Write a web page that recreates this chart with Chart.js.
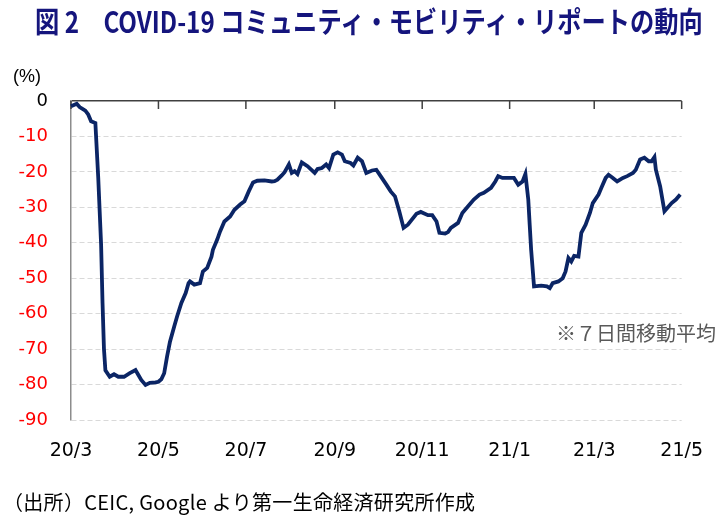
<!DOCTYPE html>
<html lang="ja">
<head>
<meta charset="utf-8">
<script src="https://cdn.jsdelivr.net/npm/chart.js@4"></script>
<style>
  html, body { margin: 0; padding: 0; background: #fff; }
  #wrap { position: relative; width: 723px; height: 516px; overflow: hidden; }
  #chart { position: absolute; left: 0; top: 0; }
  .txt { position: absolute; white-space: nowrap; font-family: "Noto Sans CJK JP", sans-serif; }
  #title { left: 35px; top: 5px; font-size: 29px; line-height: 31px; font-weight: 700; color: #15157d; transform-origin: left center; }
  #unit { left: 13px; top: 66px; font-size: 18px; line-height: 20px; font-family: "Liberation Sans Narrow", "Liberation Sans", sans-serif; color: #000; }
  #note { left: 556px; top: 320px; font-size: 20px; line-height: 26px; color: #595959; }
  #source { left: 3px; top: 489px; font-size: 20px; line-height: 26px; letter-spacing: 0.3px; color: #000; }
</style>
</head>
<body>
<div id="wrap">
  <canvas id="chart" width="723" height="516"></canvas>
  <div class="txt" id="title">図 2　COVID-19 コミュニティ・モビリティ・リポートの動向</div>
  <div class="txt" id="unit">(%)</div>
  <div class="txt" id="note">※７日間移動平均</div>
  <div class="txt" id="source">（出所）CEIC, Google より第一生命経済研究所作成</div>
</div>
<script>
// 7日間移動平均 (%)
const dates = [
  '2020-03-01','2020-03-05','2020-03-07','2020-03-11','2020-03-13','2020-03-15','2020-03-18','2020-03-20',
  '2020-03-22','2020-03-23','2020-03-24','2020-03-25','2020-03-28','2020-03-31','2020-04-03','2020-04-07',
  '2020-04-11','2020-04-15','2020-04-17','2020-04-19','2020-04-22','2020-04-25','2020-04-29','2020-05-01',
  '2020-05-03','2020-05-05','2020-05-07','2020-05-09','2020-05-12','2020-05-14','2020-05-17','2020-05-20',
  '2020-05-22','2020-05-23','2020-05-26','2020-05-30','2020-06-01','2020-06-04','2020-06-07','2020-06-08',
  '2020-06-11','2020-06-13','2020-06-16','2020-06-20','2020-06-23','2020-06-27','2020-06-30','2020-07-03',
  '2020-07-06','2020-07-09','2020-07-14','2020-07-19','2020-07-21','2020-07-23','2020-07-26','2020-07-28',
  '2020-07-31','2020-08-02','2020-08-04','2020-08-06','2020-08-09','2020-08-13','2020-08-18','2020-08-20',
  '2020-08-23','2020-08-26','2020-08-28','2020-08-31','2020-09-03','2020-09-06','2020-09-08','2020-09-12',
  '2020-09-14','2020-09-17','2020-09-20','2020-09-23','2020-09-27','2020-09-30','2020-10-03','2020-10-07',
  '2020-10-10','2020-10-13','2020-10-16','2020-10-19','2020-10-22','2020-10-28','2020-10-31','2020-11-05',
  '2020-11-08','2020-11-11','2020-11-13','2020-11-17','2020-11-19','2020-11-21','2020-11-26','2020-11-29',
  '2020-12-03','2020-12-07','2020-12-11','2020-12-14','2020-12-19','2020-12-22','2020-12-24','2020-12-27',
  '2020-12-31','2021-01-04','2021-01-07','2021-01-10','2021-01-12','2021-01-14','2021-01-15','2021-01-16',
  '2021-01-18','2021-01-23','2021-01-27','2021-01-29','2021-01-31','2021-02-04','2021-02-07','2021-02-09',
  '2021-02-11','2021-02-13','2021-02-15','2021-02-18','2021-02-20','2021-02-23','2021-02-26','2021-02-28',
  '2021-03-04','2021-03-06','2021-03-09','2021-03-11','2021-03-14','2021-03-17','2021-03-21','2021-03-24',
  '2021-03-28','2021-03-30','2021-04-02','2021-04-05','2021-04-08','2021-04-10','2021-04-12','2021-04-13',
  '2021-04-16','2021-04-19','2021-04-21','2021-04-24','2021-04-27','2021-04-30'
];
const mobility = [
  -1.5, -0.8, -1.7, -2.7, -3.8, -5.7, -6.2, -21.6,
  -40.5, -57, -70, -76, -77.8, -77.1, -77.8, -77.8,
  -76.8, -75.9, -77.3, -78.7, -80.1, -79.5, -79.4, -79.2,
  -78.5, -76.8, -72.1, -68, -63.6, -60.8, -57, -54.2,
  -51.4, -50.9, -51.8, -51.4, -48.1, -47.1, -43.9, -42,
  -39.1, -36.8, -34, -32.6, -30.7, -29.2, -28.3, -25.5,
  -23, -22.5, -22.4, -22.7, -22.6, -22.2, -21, -20.1,
  -17.9, -20.3, -19.8, -20.6, -17.3, -18.4, -20.3, -19.2,
  -18.9, -17.9, -18.9, -15.1, -14.5, -15.1, -17, -17.5,
  -18.2, -16, -17, -20.3, -19.6, -19.4, -21.2, -23.6,
  -25.5, -26.9, -31.1, -35.8, -34.9, -31.8, -31.3, -32.2,
  -32.2, -34, -37.2, -37.4, -37, -35.8, -34.4, -31.6,
  -29.7, -27.8, -26.4, -25.9, -24.5, -22.7, -21.2, -21.7,
  -21.7, -21.7, -23.6, -22.7, -20.6, -27.8, -35, -42,
  -52.3, -52.1, -52.3, -52.8, -51.4, -50.9, -50, -48.1,
  -44.3, -45.3, -43.7, -43.9, -37.2, -34.9, -31.6, -28.8,
  -26.4, -24.5, -21.7, -20.8, -21.7, -22.7, -21.7, -21.2,
  -20.3, -19.4, -16.5, -16, -17, -17, -15.8, -19.4,
  -24.1, -31.1, -30.2, -28.8, -27.8, -26.4
];
const tickDates = ['2020-03-01','2020-05-01','2020-07-01','2020-09-01','2020-11-01','2021-01-01','2021-03-01','2021-05-01'];
const tickLabels = ['20/3','20/5','20/7','20/9','20/11','21/1','21/3','21/5'];
const yTicks = [0, -10, -20, -30, -40, -50, -60, -70, -80, -90];

const dayOf = d => (Date.parse(d) - Date.parse(tickDates[0])) / 864e5;
const tickDays = tickDates.map(dayOf);
const points = dates.map((d, i) => ({ x: dayOf(d), y: mobility[i] }));

// small tick marks hanging down from the 0 line
const topTicks = {
  id: 'topTicks',
  beforeDatasetsDraw(chart) {
    const { ctx, chartArea, scales: { x } } = chart;
    ctx.save();
    ctx.strokeStyle = '#404040';
    ctx.lineWidth = 1.5;
    x.ticks.forEach(t => {
      const px = x.getPixelForValue(t.value);
      ctx.beginPath();
      ctx.moveTo(px, chartArea.top);
      ctx.lineTo(px, chartArea.top + 8);
      ctx.stroke();
    });
    ctx.restore();
  }
};

new Chart(document.getElementById('chart'), {
  type: 'line',
  data: {
    datasets: [{
      data: points,
      borderColor: '#0b2565',
      borderWidth: 3.8,
      pointRadius: 0,
      tension: 0,
      fill: false,
      clip: 6
    }]
  },
  options: {
    responsive: false,
    animation: false,
    layout: { padding: { left: 0, right: 35, top: 101, bottom: 0 } },
    plugins: { legend: { display: false }, tooltip: { enabled: false } },
    scales: {
      x: {
        type: 'linear',
        min: tickDays[0],
        max: tickDays[tickDays.length - 1],
        afterBuildTicks: s => { s.ticks = tickDays.map(v => ({ value: v })); },
        afterFit: s => { s.height = 96; },
        grid: { display: false, drawTicks: false },
        border: { display: false },
        ticks: {
          autoSkip: false,
          maxRotation: 0,
          padding: 20,
          color: '#000',
          font: { family: 'DejaVu Sans', size: 19 },
          callback: (v, i) => tickLabels[i]
        }
      },
      y: {
        min: -90,
        max: 0,
        afterBuildTicks: s => { s.ticks = yTicks.map(v => ({ value: v })); },
        afterFit: s => { s.width = 71; },
        grid: {
          drawTicks: false,
          color: c => c.tick && c.tick.value === 0 ? '#404040' : '#d9d9d9',
          lineWidth: c => c.tick && c.tick.value === 0 ? 1.5 : 1
        },
        border: {
          display: true,
          color: '#8c8c8c',
          width: 1.5,
          dash: c => c.tick && c.tick.value === 0 ? [] : [5, 3]
        },
        ticks: {
          padding: 23,
          color: c => c.tick.value === 0 ? '#000' : '#ff0000',
          font: { family: 'DejaVu Sans', size: 18 },
          callback: v => String(v)
        }
      }
    }
  },
  plugins: [topTicks]
});

// squeeze the bold title to the width it has in the original
const title = document.getElementById('title');
title.style.transform = 'scaleX(' + (668 / title.offsetWidth) + ')';
</script>
</body>
</html>
